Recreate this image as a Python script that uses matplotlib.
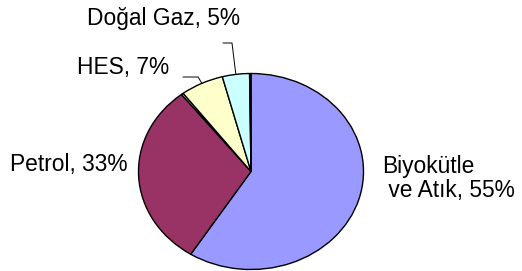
import numpy as np
import matplotlib
matplotlib.use("Agg")
import matplotlib.pyplot as plt

# slice sizes (clockwise from 12 o'clock)
sources = ["Biyokütle ve Atık", "Petrol", "", "HES", "Doğal Gaz", ""]
shares = [59.0, 30.4, 0.3, 6.2, 3.9, 0.2]
colors = ["#9999FF", "#993366", "#FFFFCC", "#FFFFCC", "#CCFFFF", "#660066"]

# label texts as printed on the chart
label_lines = {
    "Biyokütle": "Biyokütle",
    "Atık": " ve Atık, 55%",
    "Petrol": "Petrol, 33%",
    "HES": "HES, 7%",
    "Doğal Gaz": "Doğal Gaz, 5%",
}

W, H = 522, 271
plt.rcParams["font.family"] = ["Liberation Sans", "DejaVu Sans"]
fig = plt.figure(figsize=(W / 100, H / 100), dpi=100)
fig.patch.set_facecolor("white")

# elliptical pie: axes box 225 x 196 px
cx, cy, rx, ry = 251, 171.5, 112.5, 98
ax = fig.add_axes([(cx - rx) / W, (H - cy - ry) / H, 2 * rx / W, 2 * ry / H])
wedges, _ = ax.pie(shares, colors=colors, startangle=90, counterclock=False,
                   wedgeprops=dict(edgecolor="black", linewidth=1.0))
for w in wedges:
    w.set_clip_on(False)
ax.set_aspect("auto")
ax.set_xlim(-1, 1)
ax.set_ylim(-1, 1)
ax.axis("off")


def px(x, y):
    # pixel (from top-left) -> figure fraction
    return x / W, (H - y) / H


fs = 16.4
fig.text(*px(382, 173), label_lines["Biyokütle"], fontsize=fs, va="baseline")
fig.text(*px(382, 197), label_lines["Atık"], fontsize=fs, va="baseline")
fig.text(*px(10, 171), label_lines["Petrol"], fontsize=fs, va="baseline")
fig.text(*px(77, 74), label_lines["HES"], fontsize=fs, va="baseline")
fig.text(*px(87, 25), label_lines["Doğal Gaz"], fontsize=fs, va="baseline")


def mid_point(i):
    start = 90 - 3.6 * sum(shares[:i])
    ang = np.deg2rad(start - 1.8 * shares[i])
    return np.cos(ang), np.sin(ang)


# leader lines for the small slices
for idx, end, angB in [(3, (183, 77), 120), (4, (223, 43), 97)]:
    ax.annotate("", xy=mid_point(idx), xycoords="data",
                xytext=px(*end), textcoords="figure fraction",
                arrowprops=dict(arrowstyle="-", color="black", lw=0.7,
                                shrinkA=0, shrinkB=0,
                                connectionstyle=f"angle,angleA=0,angleB={angB},rad=0"),
                annotation_clip=False)

fig.savefig("out.png", dpi=100, facecolor="white")
